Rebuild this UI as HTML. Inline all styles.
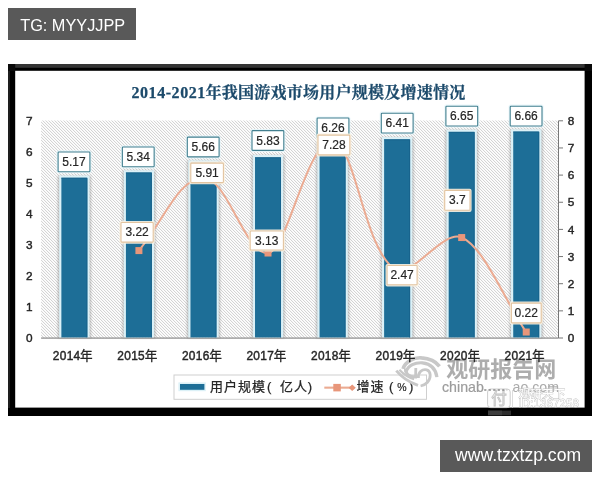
<!DOCTYPE html>
<html lang="en"><head><meta charset="utf-8"><title>chart</title>
<style>
html,body{margin:0;padding:0;background:#fff;}
body{width:600px;height:480px;position:relative;overflow:hidden;will-change:transform;font-family:"Liberation Sans",sans-serif;}
.tag{position:absolute;background:#595959;color:#fff;font-size:16px;line-height:32px;height:32px;white-space:nowrap;box-sizing:border-box;overflow:hidden;}
#t1{left:8px;top:8px;width:128px;padding-left:12.2px;font-size:16.3px;line-height:34px;}
#t2{left:440px;top:440px;width:152px;padding-left:15px;font-size:17.6px;line-height:30px;}
svg{position:absolute;left:0;top:0;}
svg text{font-family:"Liberation Sans",sans-serif;}
svg text.cjk{font-family:"Liberation Sans","Noto Sans CJK SC",sans-serif;}
svg text.cjkserif{font-family:"Liberation Serif","Noto Serif CJK SC",serif;}
</style></head><body>
<div class="tag" id="t1">TG: MYYJJPP</div>
<div class="tag" id="t2">www.tzxtzp.com</div>
<svg width="600" height="480" viewBox="0 0 600 480">
<defs>
<pattern id="hatch" width="3" height="3" patternUnits="userSpaceOnUse" x="0" y="0">
<rect x="0" y="0" width="3" height="3" fill="#fefefe"/><path d="M0,0h1v1h-1z M1,1h1v1h-1z M2,2h1v1h-1z" fill="#d4d4d4" shape-rendering="crispEdges"/><path d="M1,0h1v1h-1z M2,1h1v1h-1z M0,2h1v1h-1z" fill="#f7f7f7" shape-rendering="crispEdges"/>
</pattern>
<filter id="sh" x="-30%" y="-10%" width="160%" height="120%"><feGaussianBlur stdDeviation="1.3"/></filter>
<filter id="b1" x="-10%" y="-10%" width="120%" height="120%"><feGaussianBlur stdDeviation="0.5"/></filter>
</defs>

<rect x="8" y="64" width="584" height="352" fill="#000"/>
<rect x="8" y="64" width="584" height="3.8" fill="#343434"/>
<rect x="8" y="64" width="2" height="344" fill="#1e1e1e"/>
<rect x="8" y="64" width="7.2" height="7" fill="#0a0a0a"/>
<rect x="584.6" y="64" width="7.4" height="7" fill="#0a0a0a"/>
<rect x="15.2" y="70.8" width="569.4" height="336.8" fill="#fff"/>
<rect x="41.1" y="120.5" width="516.9" height="217.5" fill="url(#hatch)"/>
<rect x="41.1" y="337.4" width="517.4" height="1.4" fill="#9a9a9a"/>
<rect x="558.0" y="120.80000000000001" width="1" height="217.2" fill="#777"/>
<rect x="558.5" y="337.50" width="4.5" height="1" fill="#777"/>
<text x="567.7" y="342.20" font-size="11.8" fill="#262626" stroke="#262626" stroke-width="0.42">0</text>
<rect x="558.5" y="310.35" width="4.5" height="1" fill="#777"/>
<text x="567.7" y="315.05" font-size="11.8" fill="#262626" stroke="#262626" stroke-width="0.42">1</text>
<rect x="558.5" y="283.20" width="4.5" height="1" fill="#777"/>
<text x="567.7" y="287.90" font-size="11.8" fill="#262626" stroke="#262626" stroke-width="0.42">2</text>
<rect x="558.5" y="256.05" width="4.5" height="1" fill="#777"/>
<text x="567.7" y="260.75" font-size="11.8" fill="#262626" stroke="#262626" stroke-width="0.42">3</text>
<rect x="558.5" y="228.90" width="4.5" height="1" fill="#777"/>
<text x="567.7" y="233.60" font-size="11.8" fill="#262626" stroke="#262626" stroke-width="0.42">4</text>
<rect x="558.5" y="201.75" width="4.5" height="1" fill="#777"/>
<text x="567.7" y="206.45" font-size="11.8" fill="#262626" stroke="#262626" stroke-width="0.42">5</text>
<rect x="558.5" y="174.60" width="4.5" height="1" fill="#777"/>
<text x="567.7" y="179.30" font-size="11.8" fill="#262626" stroke="#262626" stroke-width="0.42">6</text>
<rect x="558.5" y="147.45" width="4.5" height="1" fill="#777"/>
<text x="567.7" y="152.15" font-size="11.8" fill="#262626" stroke="#262626" stroke-width="0.42">7</text>
<rect x="558.5" y="120.30" width="4.5" height="1" fill="#777"/>
<text x="567.7" y="125.00" font-size="11.8" fill="#262626" stroke="#262626" stroke-width="0.42">8</text>
<text x="26" y="342.20" font-size="11.8" fill="#262626" stroke="#262626" stroke-width="0.42">0</text>
<text x="26" y="311.20" font-size="11.8" fill="#262626" stroke="#262626" stroke-width="0.42">1</text>
<text x="26" y="280.20" font-size="11.8" fill="#262626" stroke="#262626" stroke-width="0.42">2</text>
<text x="26" y="249.20" font-size="11.8" fill="#262626" stroke="#262626" stroke-width="0.42">3</text>
<text x="26" y="218.20" font-size="11.8" fill="#262626" stroke="#262626" stroke-width="0.42">4</text>
<text x="26" y="187.20" font-size="11.8" fill="#262626" stroke="#262626" stroke-width="0.42">5</text>
<text x="26" y="156.20" font-size="11.8" fill="#262626" stroke="#262626" stroke-width="0.42">6</text>
<text x="26" y="125.20" font-size="11.8" fill="#262626" stroke="#262626" stroke-width="0.42">7</text>
<rect x="57.77" y="175.73" width="33.2" height="162.27" fill="#6a6a6a" opacity="0.38" filter="url(#sh)"/>
<rect x="122.32" y="170.46" width="33.2" height="167.54" fill="#6a6a6a" opacity="0.38" filter="url(#sh)"/>
<rect x="186.88" y="160.54" width="33.2" height="177.46" fill="#6a6a6a" opacity="0.38" filter="url(#sh)"/>
<rect x="251.42" y="155.27" width="33.2" height="182.73" fill="#6a6a6a" opacity="0.38" filter="url(#sh)"/>
<rect x="315.97" y="141.94" width="33.2" height="196.06" fill="#6a6a6a" opacity="0.38" filter="url(#sh)"/>
<rect x="380.52" y="137.29" width="33.2" height="200.71" fill="#6a6a6a" opacity="0.38" filter="url(#sh)"/>
<rect x="445.07" y="129.85" width="33.2" height="208.15" fill="#6a6a6a" opacity="0.38" filter="url(#sh)"/>
<rect x="509.62" y="129.54" width="33.2" height="208.46" fill="#6a6a6a" opacity="0.38" filter="url(#sh)"/>
<rect x="59.17" y="175.53" width="30.4" height="161.87" fill="#dcf1f7"/>
<rect x="61.38" y="177.73" width="26" height="159.67" fill="#1d6e97"/>
<path d="M61.38,178.23 H86.88 V337.40" fill="none" stroke="#17608a" stroke-width="1" opacity="0.8"/>
<rect x="123.72" y="170.26" width="30.4" height="167.14" fill="#dcf1f7"/>
<rect x="125.92" y="172.46" width="26" height="164.94" fill="#1d6e97"/>
<path d="M125.92,172.96 H151.42 V337.40" fill="none" stroke="#17608a" stroke-width="1" opacity="0.8"/>
<rect x="188.28" y="160.34" width="30.4" height="177.06" fill="#dcf1f7"/>
<rect x="190.47" y="162.54" width="26" height="174.86" fill="#1d6e97"/>
<path d="M190.47,163.04 H215.97 V337.40" fill="none" stroke="#17608a" stroke-width="1" opacity="0.8"/>
<rect x="252.82" y="155.07" width="30.4" height="182.33" fill="#dcf1f7"/>
<rect x="255.02" y="157.27" width="26" height="180.13" fill="#1d6e97"/>
<path d="M255.02,157.77 H280.52 V337.40" fill="none" stroke="#17608a" stroke-width="1" opacity="0.8"/>
<rect x="317.38" y="141.74" width="30.4" height="195.66" fill="#dcf1f7"/>
<rect x="319.57" y="143.94" width="26" height="193.46" fill="#1d6e97"/>
<path d="M319.57,144.44 H345.07 V337.40" fill="none" stroke="#17608a" stroke-width="1" opacity="0.8"/>
<rect x="381.93" y="137.09" width="30.4" height="200.31" fill="#dcf1f7"/>
<rect x="384.12" y="139.29" width="26" height="198.11" fill="#1d6e97"/>
<path d="M384.12,139.79 H409.62 V337.40" fill="none" stroke="#17608a" stroke-width="1" opacity="0.8"/>
<rect x="446.48" y="129.65" width="30.4" height="207.75" fill="#dcf1f7"/>
<rect x="448.68" y="131.85" width="26" height="205.55" fill="#1d6e97"/>
<path d="M448.68,132.35 H474.18 V337.40" fill="none" stroke="#17608a" stroke-width="1" opacity="0.8"/>
<rect x="511.03" y="129.34" width="30.4" height="208.06" fill="#dcf1f7"/>
<rect x="513.23" y="131.54" width="26" height="205.86" fill="#1d6e97"/>
<path d="M513.23,132.04 H538.73 V337.40" fill="none" stroke="#17608a" stroke-width="1" opacity="0.8"/>
<path d="M138.9,250.6 C165.8,217.1 178.0,179.4 203.5,177.5 C226.6,177.1 246.2,256.2 268.0,253.0 C287.3,252.6 305.2,143.9 332.6,140.3 C357.0,146.8 363.3,251.8 397.1,270.9 C413.1,276.2 444.4,228.7 461.7,237.5 C484.7,247.2 506.6,304.6 526.2,332.0" fill="none" stroke="#ebab92" stroke-width="2.0" stroke-linejoin="round" stroke-linecap="round"/>
<rect x="135.42" y="247.08" width="7" height="7" fill="#e8967a"/>
<rect x="199.97" y="174.04" width="7" height="7" fill="#e8967a"/>
<rect x="264.52" y="249.52" width="7" height="7" fill="#e8967a"/>
<rect x="329.07" y="136.85" width="7" height="7" fill="#e8967a"/>
<rect x="393.62" y="267.44" width="7" height="7" fill="#e8967a"/>
<rect x="458.18" y="234.05" width="7" height="7" fill="#e8967a"/>
<rect x="522.73" y="328.53" width="7" height="7" fill="#e8967a"/>
<rect x="56.50" y="150.35" width="35.00" height="23.00" rx="2" fill="#e6f5f9" opacity="0.9"/>
<rect x="58.10" y="151.95" width="31.80" height="19.80" rx="0.8" fill="#fff" stroke="#427f8f" stroke-width="1.1"/>
<text x="74.00" y="165.95" font-size="12" text-anchor="middle" fill="#262626" stroke="#262626" stroke-width="0.2">5.17</text>
<rect x="120.75" y="145.40" width="35.00" height="23.00" rx="2" fill="#e6f5f9" opacity="0.9"/>
<rect x="122.35" y="147.00" width="31.80" height="19.80" rx="0.8" fill="#fff" stroke="#427f8f" stroke-width="1.1"/>
<text x="138.25" y="161.00" font-size="12" text-anchor="middle" fill="#262626" stroke="#262626" stroke-width="0.2">5.34</text>
<rect x="185.70" y="135.50" width="35.00" height="23.00" rx="2" fill="#e6f5f9" opacity="0.9"/>
<rect x="187.30" y="137.10" width="31.80" height="19.80" rx="0.8" fill="#fff" stroke="#427f8f" stroke-width="1.1"/>
<text x="203.20" y="151.10" font-size="12" text-anchor="middle" fill="#262626" stroke="#262626" stroke-width="0.2">5.66</text>
<rect x="250.40" y="129.00" width="35.00" height="23.00" rx="2" fill="#e6f5f9" opacity="0.9"/>
<rect x="252.00" y="130.60" width="31.80" height="19.80" rx="0.8" fill="#fff" stroke="#427f8f" stroke-width="1.1"/>
<text x="267.90" y="144.60" font-size="12" text-anchor="middle" fill="#262626" stroke="#262626" stroke-width="0.2">5.83</text>
<rect x="315.50" y="116.40" width="35.00" height="23.00" rx="2" fill="#e6f5f9" opacity="0.9"/>
<rect x="317.10" y="118.00" width="31.80" height="19.80" rx="0.8" fill="#fff" stroke="#427f8f" stroke-width="1.1"/>
<text x="333.00" y="132.00" font-size="12" text-anchor="middle" fill="#262626" stroke="#262626" stroke-width="0.2">6.26</text>
<rect x="379.70" y="111.60" width="35.00" height="23.00" rx="2" fill="#e6f5f9" opacity="0.9"/>
<rect x="381.30" y="113.20" width="31.80" height="19.80" rx="0.8" fill="#fff" stroke="#427f8f" stroke-width="1.1"/>
<text x="397.20" y="127.20" font-size="12" text-anchor="middle" fill="#262626" stroke="#262626" stroke-width="0.2">6.41</text>
<rect x="444.30" y="104.60" width="35.00" height="23.00" rx="2" fill="#e6f5f9" opacity="0.9"/>
<rect x="445.90" y="106.20" width="31.80" height="19.80" rx="0.8" fill="#fff" stroke="#427f8f" stroke-width="1.1"/>
<text x="461.80" y="120.20" font-size="12" text-anchor="middle" fill="#262626" stroke="#262626" stroke-width="0.2">6.65</text>
<rect x="508.60" y="104.60" width="35.00" height="23.00" rx="2" fill="#e6f5f9" opacity="0.9"/>
<rect x="510.20" y="106.20" width="31.80" height="19.80" rx="0.8" fill="#fff" stroke="#427f8f" stroke-width="1.1"/>
<text x="526.10" y="120.20" font-size="12" text-anchor="middle" fill="#262626" stroke="#262626" stroke-width="0.2">6.66</text>
<rect x="119.40" y="220.90" width="35.40" height="22.80" rx="2" fill="#fbf2e2" opacity="0.9"/>
<rect x="121.00" y="222.50" width="32.20" height="19.60" rx="0.8" fill="#fff" stroke="#e2c4a0" stroke-width="1.1"/>
<text x="137.10" y="236.40" font-size="12" text-anchor="middle" fill="#262626" stroke="#262626" stroke-width="0.2">3.22</text>
<rect x="189.20" y="161.50" width="35.80" height="22.70" rx="2" fill="#fbf2e2" opacity="0.9"/>
<rect x="190.80" y="163.10" width="32.60" height="19.50" rx="0.8" fill="#fff" stroke="#e2c4a0" stroke-width="1.1"/>
<text x="207.10" y="176.95" font-size="12" text-anchor="middle" fill="#262626" stroke="#262626" stroke-width="0.2">5.91</text>
<rect x="248.60" y="229.40" width="36.40" height="22.20" rx="2" fill="#fbf2e2" opacity="0.9"/>
<rect x="250.20" y="231.00" width="33.20" height="19.00" rx="0.8" fill="#fff" stroke="#e2c4a0" stroke-width="1.1"/>
<text x="266.80" y="244.60" font-size="12" text-anchor="middle" fill="#262626" stroke="#262626" stroke-width="0.2">3.13</text>
<rect x="316.40" y="133.50" width="35.00" height="23.00" rx="2" fill="#fbf2e2" opacity="0.9"/>
<rect x="318.00" y="135.10" width="31.80" height="19.80" rx="0.8" fill="#fff" stroke="#e2c4a0" stroke-width="1.1"/>
<text x="333.90" y="149.10" font-size="12" text-anchor="middle" fill="#262626" stroke="#262626" stroke-width="0.2">7.28</text>
<rect x="385.50" y="263.90" width="33.20" height="22.50" rx="2" fill="#fbf2e2" opacity="0.9"/>
<rect x="387.10" y="265.50" width="30.00" height="19.30" rx="0.8" fill="#fff" stroke="#e2c4a0" stroke-width="1.1"/>
<text x="402.10" y="279.25" font-size="12" text-anchor="middle" fill="#262626" stroke="#262626" stroke-width="0.2">2.47</text>
<rect x="443.10" y="188.80" width="28.50" height="23.10" rx="2" fill="#fbf2e2" opacity="0.9"/>
<rect x="444.70" y="190.40" width="25.30" height="19.90" rx="0.8" fill="#fff" stroke="#e2c4a0" stroke-width="1.1"/>
<text x="457.35" y="204.45" font-size="12" text-anchor="middle" fill="#262626" stroke="#262626" stroke-width="0.2">3.7</text>
<rect x="509.80" y="301.50" width="33.00" height="23.00" rx="2" fill="#fbf2e2" opacity="0.9"/>
<rect x="511.40" y="303.10" width="29.80" height="19.80" rx="0.8" fill="#fff" stroke="#e2c4a0" stroke-width="1.1"/>
<text x="526.30" y="317.10" font-size="12" text-anchor="middle" fill="#262626" stroke="#262626" stroke-width="0.2">0.22</text>
<rect x="174" y="375" width="252.5" height="24.3" fill="#fff" stroke="#cfcfcf" stroke-width="1"/>
<rect x="178.4" y="382.4" width="27.4" height="8.8" fill="#dcf1f7"/><rect x="180" y="384" width="24.4" height="5.8" fill="#1d6e97"/>
<text class="cjk" y="391.3" font-size="13" letter-spacing="1" fill="#262626" stroke="#262626" stroke-width="0.25"><tspan x="210">用户规模</tspan><tspan x="267">(</tspan><tspan x="280">亿人</tspan><tspan x="307.8">)</tspan></text>
<text class="cjk" y="391.3" font-size="13" letter-spacing="1" fill="#262626" stroke="#262626" stroke-width="0.25"><tspan x="356.4">增速</tspan><tspan x="389">(</tspan><tspan x="408.9">)</tspan></text>
<text x="397.2" y="391.2" font-size="10.5" fill="#262626" stroke="#262626" stroke-width="0.2">%</text>
<rect x="324.3" y="386.6" width="28" height="2.1" fill="#ebab92"/>
<rect x="333.3" y="383.9" width="7.5" height="7.5" fill="#e8967a"/>
<path d="M348.6,387.65 L352.2,384.4 L355.8,387.65 L352.2,390.9 Z" fill="#e8967a"/>
<path d="M 403.1 368.9 C 405.0 361.5 414.5 357.2 421.5 357.9 C 429.3 358.5 436.2 362.0 439.5 366.3" fill="none" stroke="#c8c8c8" stroke-width="3.6"/>
<path d="M 405.9 372.4 C 408.0 365.0 415.4 362.4 422.3 362.8 C 430.1 363.7 435.8 368.5 436.9 377.1" fill="none" stroke="#c8c8c8" stroke-width="3.2"/>
<path d="M 405.4 368.5 C 405.0 373.7 409.3 376.7 415.6 377.0 L 415.8 368.0" fill="none" stroke="#c8c8c8" stroke-width="2.8"/>
<path d="M 418.4 378.0 C 418.0 371.9 422.3 368.9 426.7 369.8 C 431.0 371.1 431.4 378.0 427.5 382.3 C 425.8 384.2 423.2 385.4 420.6 386.0" fill="none" stroke="#c8c8c8" stroke-width="2.8"/>
<path d="M 396.3 370.6 C 401.5 377.1 409.3 382.3 418.0 385.4" fill="none" stroke="#c8c8c8" stroke-width="2.8"/>
<path d="M 399.4 369.8 C 403.3 374.1 408.5 377.6 414.1 379.3" fill="none" stroke="#c8c8c8" stroke-width="2.2"/>
<text class="cjk" x="446.3" y="377" font-size="22" font-weight="bold" fill="#adadad">观研报告网</text>
<text x="442" y="391.6" font-size="14.2" fill="#9c9c9c" stroke="#9c9c9c" stroke-width="0.2">chinab</text>
<text x="512.5" y="391.6" font-size="14.2" fill="#ababab">ao.com</text>
<rect x="548" y="386.3" width="9.5" height="1.1" fill="#aaa"/>
<rect x="487.6" y="389" width="22.6" height="18.6" rx="3" fill="#fdfdfd" stroke="#cdcdcd" stroke-width="1"/>
<text class="cjk" x="491.2" y="404.4" font-size="15.5" fill="#fff" stroke="#c2c2c2" stroke-width="0.9">付</text>
<rect x="512" y="390" width="1" height="17.5" fill="#dcdcdc"/>
<path d="M484.2,389.9 h23" stroke="#8a8a8a" stroke-width="1.5" stroke-dasharray="2.2 2.3" fill="none"/>
<text class="cjk" x="518.6" y="397.6" font-size="11.5" letter-spacing="0.2" fill="#fff" stroke="#c0c0c0" stroke-width="0.8" paint-order="stroke">观研天下</text>
<text x="518.5" y="407.4" font-size="10.8" fill="#fff" stroke="#bdbdbd" stroke-width="0.8" paint-order="stroke" letter-spacing="0.5">ID:1367258</text>
<rect x="488" y="410.6" width="23" height="4.6" fill="#2e2e2e"/><rect x="488" y="410.6" width="14" height="4.6" fill="#3d3d3d"/>
<text x="52.77" y="359.9" font-size="11.9" letter-spacing="0.32" fill="#262626" stroke="#262626" stroke-width="0.42">2014</text>
<text class="cjk" x="80.1" y="359.9" font-size="12.6" fill="#262626" stroke="#262626" stroke-width="0.3">年</text>
<text x="117.32" y="359.9" font-size="11.9" letter-spacing="0.32" fill="#262626" stroke="#262626" stroke-width="0.42">2015</text>
<text class="cjk" x="144.65" y="359.9" font-size="12.6" fill="#262626" stroke="#262626" stroke-width="0.3">年</text>
<text x="181.88" y="359.9" font-size="11.9" letter-spacing="0.32" fill="#262626" stroke="#262626" stroke-width="0.42">2016</text>
<text class="cjk" x="209.2" y="359.9" font-size="12.6" fill="#262626" stroke="#262626" stroke-width="0.3">年</text>
<text x="246.42" y="359.9" font-size="11.9" letter-spacing="0.32" fill="#262626" stroke="#262626" stroke-width="0.42">2017</text>
<text class="cjk" x="273.75" y="359.9" font-size="12.6" fill="#262626" stroke="#262626" stroke-width="0.3">年</text>
<text x="310.97" y="359.9" font-size="11.9" letter-spacing="0.32" fill="#262626" stroke="#262626" stroke-width="0.42">2018</text>
<text class="cjk" x="338.3" y="359.9" font-size="12.6" fill="#262626" stroke="#262626" stroke-width="0.3">年</text>
<text x="375.52" y="359.9" font-size="11.9" letter-spacing="0.32" fill="#262626" stroke="#262626" stroke-width="0.42">2019</text>
<text class="cjk" x="402.85" y="359.9" font-size="12.6" fill="#262626" stroke="#262626" stroke-width="0.3">年</text>
<text x="440.07" y="359.9" font-size="11.9" letter-spacing="0.32" fill="#262626" stroke="#262626" stroke-width="0.42">2020</text>
<text class="cjk" x="467.4" y="359.9" font-size="12.6" fill="#262626" stroke="#262626" stroke-width="0.3">年</text>
<text x="504.62" y="359.9" font-size="11.9" letter-spacing="0.32" fill="#262626" stroke="#262626" stroke-width="0.42">2021</text>
<text class="cjk" x="531.95" y="359.9" font-size="12.6" fill="#262626" stroke="#262626" stroke-width="0.3">年</text>
<text x="131.5" y="98" font-family="Liberation Serif" font-weight="bold" font-size="16" letter-spacing="0.55" fill="#1c4a6b" stroke="#1c4a6b" stroke-width="0.25" style="font-family:'Liberation Serif',serif">2014-2021</text>
<text class="cjkserif" x="205.4" y="97.6" font-weight="bold" font-size="16" letter-spacing="0.25" fill="#1c4a6b" stroke="#1c4a6b" stroke-width="0.25">年我国游戏市场用户规模及增速情况</text>
</svg></body></html>
